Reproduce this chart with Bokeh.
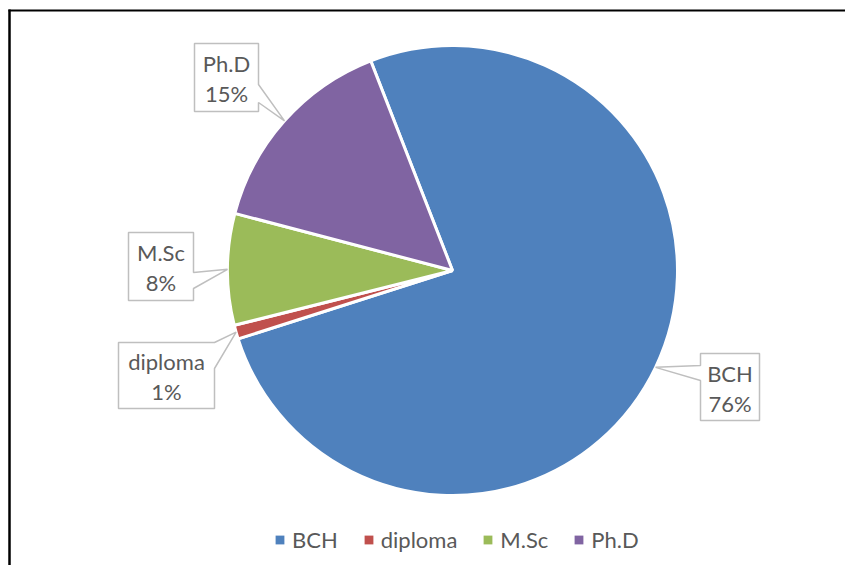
import math
from bokeh.plotting import figure
from bokeh.models import Range1d, ColumnDataSource, Legend, LegendItem
from bokeh.core.properties import value
from bokeh.embed import file_html
from bokeh.resources import INLINE

# ---- data ----
categories = ["BCH", "diploma", "M.Sc", "Ph.D"]
values = [76, 1, 8, 15]
colors = ["#4F81BD", "#C0504D", "#9BBB59", "#8064A2"]

# ---- layout (image pixel coordinates, y downward) ----
W, H = 845, 565
CX, CY_IMG, R = 452, 270, 225
START_DEG = 111.3          # first slice start, counter-clockwise from +x
# callout boxes: left, top, right, bottom
boxes = {
    "BCH": (700, 353, 759, 420),
    "diploma": (118, 342, 214, 408),
    "M.Sc": (128, 232, 193, 300),
    "Ph.D": (194, 43, 258, 111),
}
FONT = "Lato"
FS = "22px"
TXT = "#595959"
BOXLINE = "#BFBFBF"


def Y(yimg):
    return 581 - yimg


p = figure(width=W, height=H, output_backend="svg", toolbar_location=None,
           x_range=Range1d(0, W), y_range=Range1d(581 - H, 581),
           min_border=0, outline_line_color=None)
p.xaxis.visible = False
p.yaxis.visible = False
p.grid.visible = False
p.background_fill_color = "white"
p.border_fill_color = "white"

total = sum(values)
starts, ends, mids = [], [], []
acc = 0.0
for v in values:
    a0 = math.radians(START_DEG - acc / total * 360)
    acc += v
    a1 = math.radians(START_DEG - acc / total * 360)
    starts.append(a0)
    ends.append(a1)
    mids.append((a0 + a1) / 2)

src = ColumnDataSource(dict(cat=categories, val=values, color=colors,
                            start=starts, end=ends))
under = p.wedge(x=CX, y=Y(CY_IMG), radius=R, start_angle="start", end_angle="end",
                direction="clock", fill_color="color", line_color=None, source=src)
p.wedge(x=CX, y=Y(CY_IMG), radius=R, start_angle="start", end_angle="end",
        direction="clock", fill_color="color", line_color="white", line_width=3,
        source=src)

# callouts
for cat, v, m in zip(categories, values, mids):
    tx = CX + R * math.cos(m)
    ty = Y(CY_IMG) + R * math.sin(m)
    l, t, r, b = boxes[cat]
    if cat == "BCH":
        pts = [(l, t), (r, t), (r, b), (l, b), (l, 380), (None, None), (l, 365)]
    elif cat == "diploma":
        pts = [(l, t), (r, t), (None, None), (r, 368), (r, b), (l, b)]
    elif cat == "M.Sc":
        pts = [(l, t), (r, t), (r, 272), (None, None), (r, 288), (r, b), (l, b)]
    else:
        pts = [(l, t), (r, t), (r, 84), (None, None), (r, 102), (r, b), (l, b)]
    xs, ys = [], []
    for px, py in pts:
        if px is None:
            xs.append(tx)
            ys.append(ty)
        else:
            xs.append(px)
            ys.append(Y(py))
    p.patch(xs, ys, fill_color="white", line_color=BOXLINE, line_width=1.5)
    cx = (l + r) / 2
    cy = (t + b) / 2
    pct = f"{round(v / total * 100)}%"
    p.text(x=[cx], y=[Y(cy - 14)], text=[cat], text_align="center", text_baseline="middle",
           text_font=value(FONT), text_font_size=FS, text_color=TXT)
    p.text(x=[cx], y=[Y(cy + 16)], text=[pct], text_align="center", text_baseline="middle",
           text_font=value(FONT), text_font_size=FS, text_color=TXT)

# legend
items = [LegendItem(label=cat, renderers=[under], index=i) for i, cat in enumerate(categories)]
legend = Legend(items=items, orientation="horizontal", location=(274, 12),
                glyph_width=11, glyph_height=11, label_standoff=7, spacing=25,
                padding=0, margin=0, border_line_color=None, background_fill_alpha=0,
                label_text_font=FONT, label_text_font_size=FS, label_text_color=TXT)
p.add_layout(legend, "center")

# chart border (top and left visible; right/bottom lie outside the window)
p.segment(x0=[8, 9], y0=[Y(10), Y(9)], x1=[W, 9], y1=[Y(10), 581 - H],
          line_color="black", line_width=[2, 2.5])

open("out.html", "w").write(file_html(p, INLINE))
